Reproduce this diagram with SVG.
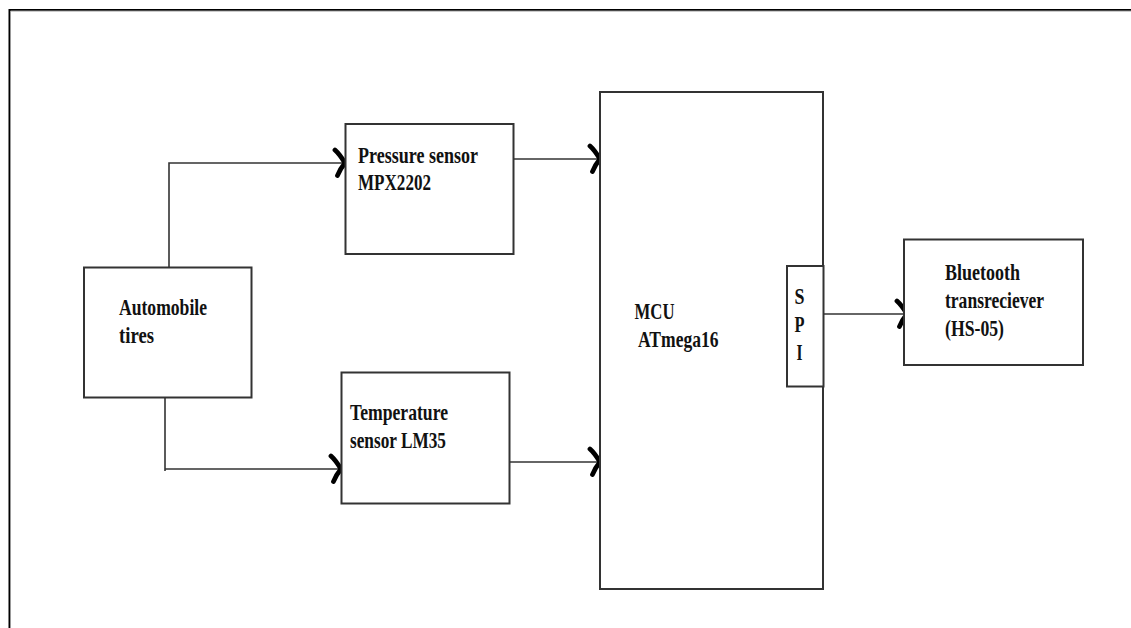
<svg xmlns="http://www.w3.org/2000/svg" width="1131" height="628" viewBox="0 0 1131 628">
<style>
.box{fill:#fff;stroke:#333;stroke-width:2}
.ln{fill:none;stroke:#333;stroke-width:1.6}
.t{font-family:"Liberation Serif","Times New Roman",serif;font-weight:bold;font-size:22.5px;fill:#111}
</style>
<defs>
<marker id="chev" markerUnits="userSpaceOnUse" markerWidth="20" markerHeight="34" refX="14" refY="16" orient="auto" viewBox="0 0 20 34">
<path d="M4,3 Q8.5,7 14,16 Q9,22 6.5,28.5" fill="none" stroke="#000" stroke-width="4.8" stroke-linecap="round" stroke-linejoin="round"/>
</marker>
</defs>
<rect width="1131" height="628" fill="#fff"/>
<path d="M9.5,628 V10 H1131" fill="none" stroke="#000" stroke-width="2"/>
<path d="M10.5,628 V11 H1131" fill="none" stroke="#999" stroke-width="1"/>
<g id="connectors">
<path class="ln" d="M169,267 V163 H345" marker-end="url(#chev)"/>
<path class="ln" d="M165,398 V471 M165,469 H341" marker-end="url(#chev)"/>
<path class="ln" d="M514,159 H600" marker-end="url(#chev)"/>
<path class="ln" d="M509,462 H600" marker-end="url(#chev)"/>
<path class="ln" d="M823,314 H907" marker-end="url(#chev)"/>
</g>
<g id="tires">
<rect class="box" x="84" y="267.5" width="167.5" height="130"/>
<text class="t" x="119" y="315" textLength="88" lengthAdjust="spacingAndGlyphs">Automobile</text>
<text class="t" x="119" y="342.5" textLength="35" lengthAdjust="spacingAndGlyphs">tires</text>
</g>
<g id="pressure">
<rect class="box" x="345.5" y="124" width="168" height="130"/>
<text class="t" x="358" y="162.5" textLength="120" lengthAdjust="spacingAndGlyphs">Pressure sensor</text>
<text class="t" x="358" y="189.5" textLength="73" lengthAdjust="spacingAndGlyphs">MPX2202</text>
</g>
<g id="temperature">
<rect class="box" x="341.5" y="372.5" width="168" height="131"/>
<text class="t" x="350" y="420" textLength="98" lengthAdjust="spacingAndGlyphs">Temperature</text>
<text class="t" x="350" y="447.5" textLength="96" lengthAdjust="spacingAndGlyphs">sensor LM35</text>
</g>
<g id="mcu">
<rect class="box" x="600" y="92" width="223" height="497"/>
<text class="t" x="634.5" y="319" textLength="40" lengthAdjust="spacingAndGlyphs">MCU</text>
<text class="t" x="638" y="346.5" textLength="80.5" lengthAdjust="spacingAndGlyphs">ATmega16</text>
</g>
<g id="spi">
<rect class="box" x="787" y="266" width="36.5" height="120.5"/>
<text class="t" x="799.5" y="303.5" text-anchor="middle" textLength="10" lengthAdjust="spacingAndGlyphs">S</text>
<text class="t" x="799.5" y="332" text-anchor="middle" textLength="10" lengthAdjust="spacingAndGlyphs">P</text>
<text class="t" x="799.5" y="360" text-anchor="middle" textLength="6" lengthAdjust="spacingAndGlyphs">I</text>
</g>
<g id="bluetooth">
<rect class="box" x="904" y="239.5" width="179" height="125.5"/>
<text class="t" x="945" y="280" textLength="75" lengthAdjust="spacingAndGlyphs">Bluetooth</text>
<text class="t" x="945" y="307.5" textLength="99" lengthAdjust="spacingAndGlyphs">transreciever</text>
<text class="t" x="945" y="336" textLength="59" lengthAdjust="spacingAndGlyphs">(HS-05)</text>
</g>
</svg>
